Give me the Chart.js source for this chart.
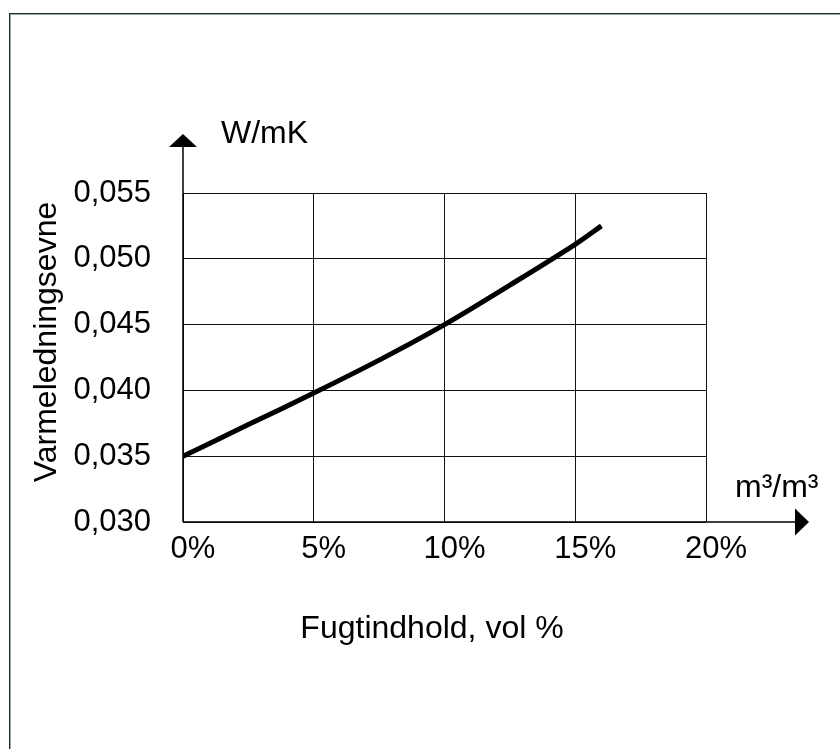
<!DOCTYPE html>
<html>
<head>
<meta charset="utf-8">
<title>Varmeledningsevne</title>
<script src="https://cdn.jsdelivr.net/npm/chart.js@4.4.1/dist/chart.umd.min.js"></script>
<style>
  html, body { margin: 0; padding: 0; background: #ffffff; }
  #wrap { width: 840px; height: 749px; }
</style>
</head>
<body>
<div id="wrap"><canvas id="chart" width="840" height="749"></canvas></div>
<script>
// Moisture content (vol %) and thermal conductivity (W/mK)
const moisture = [0, 2.5, 5, 7.5, 10, 12.5, 15, 16];
const conductivity = [0.0350, 0.0374, 0.0398, 0.0423, 0.0450, 0.0480, 0.0511, 0.0525];

const xTicks = [0, 5, 10, 15, 20];
const yTicks = [0.030, 0.035, 0.040, 0.045, 0.050, 0.055];

const FONT = '"Liberation Sans", Arial, sans-serif';

// Frame, axis arrows and the free-standing text labels
const decorations = {
  id: 'decorations',
  beforeDraw(chart) {
    const ctx = chart.ctx;
    ctx.save();
    ctx.fillStyle = '#ffffff';
    ctx.fillRect(0, 0, chart.width, chart.height);
    // picture frame (only top + left visible)
    ctx.fillStyle = '#1c2a2a';
    ctx.fillRect(9, 13, 1, chart.height - 13);
    ctx.fillRect(9, 13, chart.width - 9, 1);
    ctx.fillStyle = '#9aa8a8';
    ctx.fillRect(10, 14, 1, chart.height - 14);
    ctx.fillRect(10, 14, chart.width - 10, 1);
    ctx.restore();
  },
  afterDraw(chart) {
    const ctx = chart.ctx;
    const { left, right, top, bottom } = chart.chartArea;
    ctx.save();
    ctx.strokeStyle = '#000';
    ctx.fillStyle = '#000';
    ctx.lineWidth = 1.5;

    // y axis with arrow
    ctx.beginPath();
    ctx.moveTo(left, bottom);
    ctx.lineTo(left, top - 46);
    ctx.stroke();
    ctx.beginPath();
    ctx.moveTo(left - 14, top - 46);
    ctx.lineTo(left + 14, top - 46);
    ctx.lineTo(left, top - 59);
    ctx.closePath();
    ctx.fill();

    // x axis with arrow
    ctx.beginPath();
    ctx.moveTo(left, bottom);
    ctx.lineTo(right + 89, bottom);
    ctx.stroke();
    ctx.beginPath();
    ctx.moveTo(right + 89, bottom - 13.5);
    ctx.lineTo(right + 89, bottom + 13.5);
    ctx.lineTo(right + 103, bottom);
    ctx.closePath();
    ctx.fill();

    // units
    ctx.font = '32px ' + FONT;
    ctx.textAlign = 'left';
    ctx.textBaseline = 'alphabetic';
    ctx.fillText('W/mK', left + 38, top - 50);
    ctx.fillText('m\u00b3/m\u00b3', right + 29, bottom - 25);

    // axis titles
    ctx.textAlign = 'center';
    ctx.fillText('Fugtindhold, vol %', 432, 638);
    ctx.translate(56, 342);
    ctx.rotate(-Math.PI / 2);
    ctx.fillText('Varmeledningsevne', 0, 0);
    ctx.restore();
  }
};

new Chart(document.getElementById('chart'), {
  type: 'line',
  data: {
    datasets: [{
      data: moisture.map((x, i) => ({ x, y: conductivity[i] })),
      borderColor: '#000000',
      borderWidth: 5,
      pointRadius: 0,
      tension: 0.35,
      fill: false
    }]
  },
  options: {
    responsive: false,
    animation: false,
    devicePixelRatio: 1,
    layout: {
      padding: { top: 193, right: 134, left: 0, bottom: 0 }
    },
    scales: {
      x: {
        type: 'linear',
        min: xTicks[0],
        max: xTicks[xTicks.length - 1],
        afterBuildTicks: scale => { scale.ticks = xTicks.map(v => ({ value: v })); },
        afterFit: scale => { scale.height = 227; },
        border: { display: false },
        grid: { color: '#111111', lineWidth: 1, drawTicks: false },
        ticks: {
          padding: 9,
          labelOffset: 10,
          maxRotation: 0,
          color: '#000',
          font: { family: FONT, size: 31 },
          callback: v => v + '%'
        }
      },
      y: {
        min: yTicks[0],
        max: yTicks[yTicks.length - 1],
        afterBuildTicks: scale => { scale.ticks = yTicks.map(v => ({ value: v })); },
        afterFit: scale => { scale.width = 183; },
        border: { display: false },
        grid: { color: '#111111', lineWidth: 1, drawTicks: false },
        ticks: {
          padding: 32,
          color: '#000',
          font: { family: FONT, size: 31 },
          callback: v => v.toFixed(3).replace('.', ',')
        }
      }
    },
    plugins: {
      legend: { display: false },
      tooltip: { enabled: false }
    }
  },
  plugins: [decorations]
});
</script>
</body>
</html>
